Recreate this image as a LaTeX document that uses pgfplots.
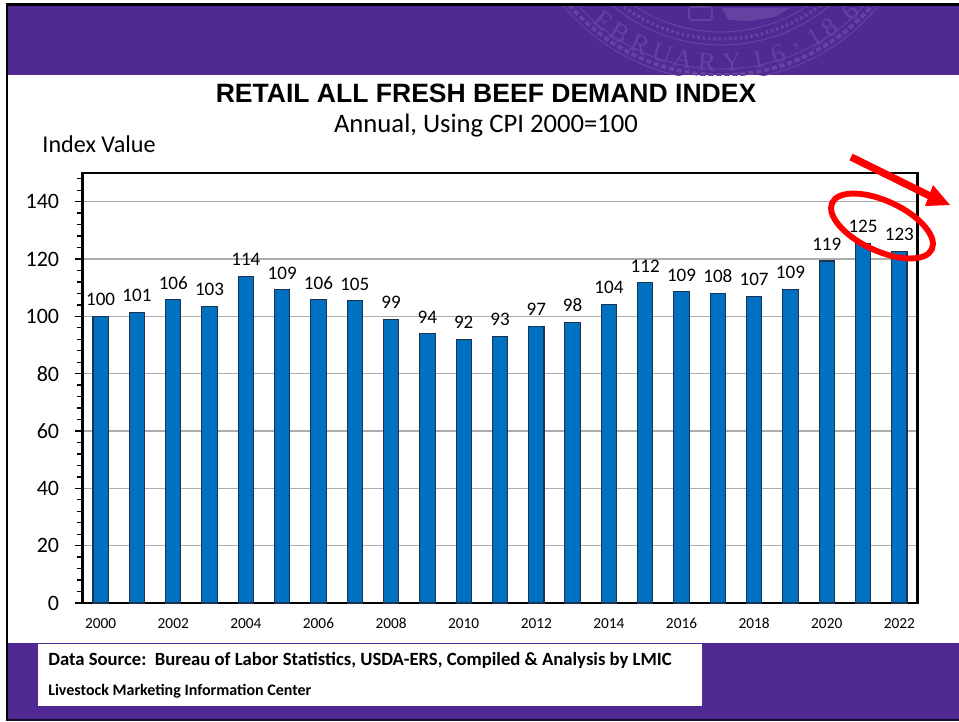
\documentclass[border=0pt]{standalone}
\usepackage{fontspec}
\setmainfont{Carlito}
\newfontfamily\arial{Liberation Sans}
\newfontfamily\serifseal{Liberation Serif}
\usepackage{pgfplots}
\pgfplotsset{compat=1.18}
\definecolor{bandpurple}{RGB}{80,41,146}
\definecolor{sealpurple}{RGB}{100,66,162}
\definecolor{barblue}{RGB}{0,112,192}
\definecolor{baredge}{RGB}{28,50,82}

\begin{document}
\begin{tikzpicture}[x=0.75pt,y=-0.75pt]
\path[use as bounding box] (0,0) rectangle (959,721);
\fill[white] (0,0) rectangle (959,721);
% purple bands and frame
\fill[bandpurple] (8,6) rectangle (959,75);
\fill[bandpurple] (8,643) rectangle (959,719);
\fill[black] (6,3) rectangle (959,6);
\fill[black] (6,3) rectangle (8,721);
\fill[black!70!bandpurple] (6,719) rectangle (959,721);
% seal
\begin{scope}
\clip (8,6) rectangle (959,75);
\draw[sealpurple,line width=0.8pt] (721,-124) circle [radius=204];
\draw[sealpurple,line width=3pt,dash pattern=on 4pt off 2pt] (721,-124) circle [radius=199];
\draw[sealpurple,line width=0.8pt] (721,-124) circle [radius=193];
\draw[sealpurple,line width=0.8pt] (721,-124) circle [radius=169];
\draw[sealpurple,line width=2.5pt,dash pattern=on 2pt off 2pt] (721,-124) circle [radius=163];
\draw[sealpurple,line width=0.8pt] (721,-124) circle [radius=156];
\draw[sealpurple,line width=1.2pt,rounded corners=2pt] (689,7) rectangle (712,20);
\fill[sealpurple] (722,8) -- (790,8) -- (775,17) -- (750,21) -- (728,20) -- cycle;
\foreach \c/\xx in {F/583,E/603,B/620,R/640,U/662,A/683,R/707,Y/732,1/758,6/778,{,}/797,1/815,8/830,6/850}{
  \pgfmathsetmacro{\ang}{asin((\xx-721)/187)}
  \pgfmathsetmacro{\yy}{-124+187*cos(\ang)}
  \node[text=sealpurple,rotate=\ang,inner sep=0pt] at (\xx,\yy) {\serifseal\fontsize{20}{20}\selectfont \c};
}
\end{scope}
% footer box
\fill[white] (38,644) rectangle (702,706);
\node[anchor=west,inner sep=0pt] at (48,660) {\fontsize{14}{16}\selectfont\bfseries Data Source:\ \ Bureau of Labor Statistics, USDA-ERS, Compiled \& Analysis by LMIC};
\node[anchor=west,inner sep=0pt] at (48,691) {\fontsize{12}{14}\selectfont\bfseries Livestock Marketing Information Center};
% titles
\node[inner sep=0pt] at (486,93) {\arial\fontsize{19.9}{22}\selectfont\bfseries RETAIL ALL FRESH BEEF DEMAND INDEX};
\node[inner sep=0pt] at (486,126) {\fontsize{20}{22}\selectfont Annual, Using CPI 2000=100};
\node[inner sep=0pt] at (99,144) {\fontsize{18.1}{20}\selectfont Index Value};

\begin{axis}[
  at={(61.875pt,-452.25pt)},
  anchor=south west,
  scale only axis,
  width=626.25pt,
  height=322.5pt,
  ybar,
  bar width=11.5pt,
  bar shift=0pt,
  xmin=-0.5,
  xmax=22.5,
  ymin=0,
  ymax=150,
  xtick={0,2,...,22},
  xticklabels={2000,2002,2004,2006,2008,2010,2012,2014,2016,2018,2020,2022},
  minor xtick={-0.5,0.5,...,22.5},
  ytick={0,20,...,140},
  minor ytick={4,8,12,16,24,28,32,36,44,48,52,56,64,68,72,76,84,88,92,96,104,108,112,116,124,128,132,136,144,148},
  xtick pos=bottom,
  ytick pos=left,
  tick align=outside,
  major tick length=6pt,
  minor tick length=4pt,
  x tick style={draw=none},
  minor x tick style={black,line width=0.8pt},
  y tick style={black,line width=1pt},
  minor y tick style={black,line width=1pt},
  ymajorgrids,
  grid style={gray!65,line width=0.8pt},
  axis line style={black,line width=1.6pt},
  /pgf/number format/assume math mode=true,
  xticklabel style={font=\fontsize{11.5}{13}\selectfont,yshift=-1.5pt,text height=8pt,text depth=0pt},
  yticklabel style={font=\fontsize{16.5}{18}\selectfont,xshift=-8pt},
  nodes near coords={\pgfmathprintnumber[fixed,precision=0,assume math mode=true]{\pgfplotspointmeta}},
  every node near coord/.append style={font=\fontsize{14.3}{15}\selectfont,inner sep=2pt,yshift=5.5pt},
]
\addplot[fill=barblue,draw=baredge,line width=0.8pt] coordinates {
  (0,100.0)
  (1,101.4)
  (2,105.8)
  (3,103.4)
  (4,114.0)
  (5,109.3)
  (6,105.8)
  (7,105.4)
  (8,99.0)
  (9,94.0)
  (10,92.0)
  (11,93.0)
  (12,96.6)
  (13,98.0)
  (14,104.2)
  (15,111.7)
  (16,108.6)
  (17,108.0)
  (18,106.9)
  (19,109.4)
  (20,119.3)
  (21,125.4)
  (22,122.7)
};
\end{axis}
% hand-drawn annotation
\draw[red,line width=4.4pt] (882,226) [rotate around={-25:(882,226)}] ellipse [x radius=55, y radius=25];
\draw[red,line width=5.5pt] (851,157) -- (932,197);
\fill[red] (950,205) -- (933,185) -- (925,206) -- cycle;
\end{tikzpicture}
\end{document}
